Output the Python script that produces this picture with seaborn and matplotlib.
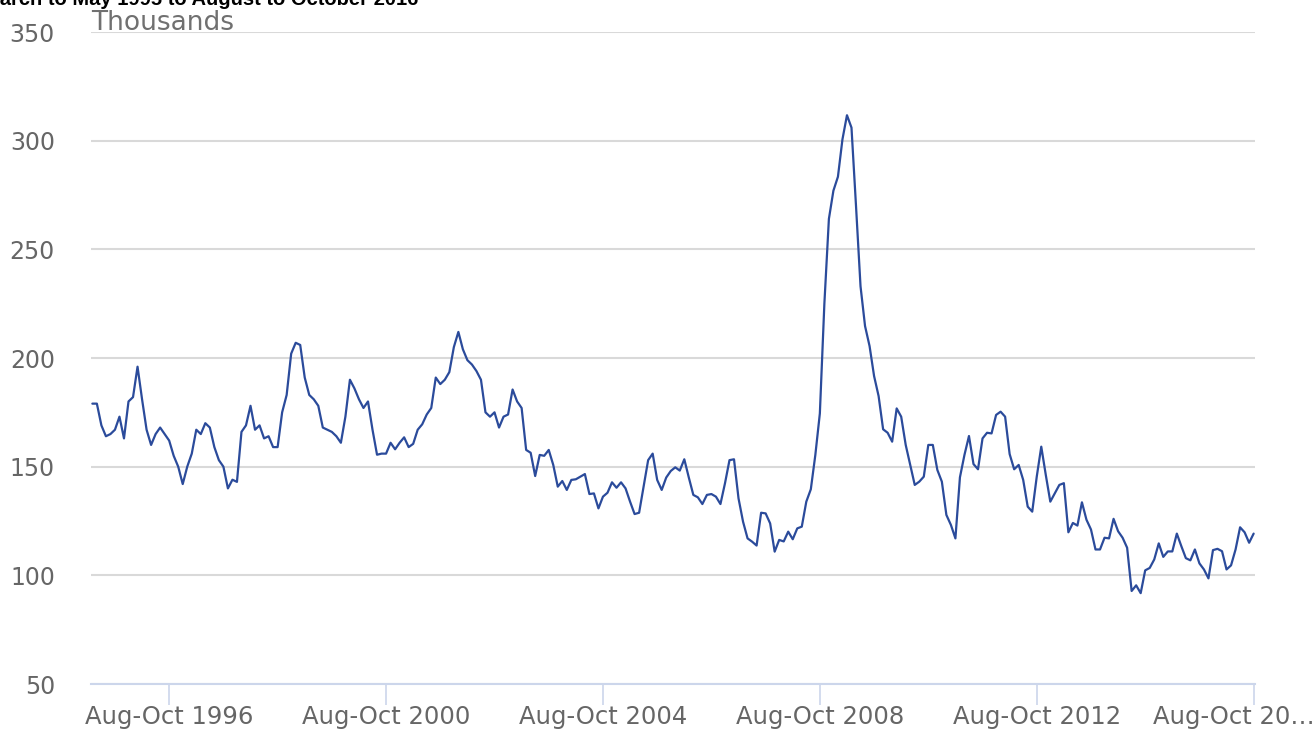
import matplotlib
matplotlib.use("Agg")
import matplotlib.pyplot as plt
import matplotlib.transforms as mtransforms
import seaborn as sns
import pandas as pd
import numpy as np

# Rolling three-month periods: Mar-May 1995 ... Aug-Oct 2016 (258 periods)
values = [
    179, 179, 169, 164, 165, 167, 173, 163, 180, 182, 196, 181, 167, 160, 165,
    168, 165, 162, 155, 150, 142, 150, 156, 167, 165, 170, 168, 159, 153, 150,
    140, 144, 143, 166, 169, 178, 167, 169, 163, 164, 159, 159, 175,
    183, 202, 207, 206, 191, 183, 181, 178, 168, 167, 166, 164, 161, 173, 190,
    186, 181, 177, 180, 167, 155.5, 156, 156, 161, 158, 161, 163.5, 159, 160.5,
    167, 169.5, 174, 177, 191, 188, 190, 193.5, 205, 212, 204, 199, 197, 194,
    190, 175, 173, 175, 168, 173, 174, 185.5, 180, 177, 157.7, 156.4, 145.7,
    155.4, 155, 157.7, 150.8, 140.8, 143.4, 139.3, 143.9, 144.2, 145.4, 146.6,
    137.4, 137.7, 130.8, 136.2, 138, 142.8, 140.3, 142.8, 140, 133.9, 128.2,
    128.8, 140.8, 153, 156, 143.9, 139.3, 145, 148, 149.7,
    148.2, 153.4, 145, 137, 135.9, 132.8, 137, 137.4, 136.2, 132.8, 142.3, 153,
    153.4, 135.4, 124.7, 117, 115.5, 113.7, 128.8, 128.5, 123.9, 110.9, 116.3,
    115.6, 120.1, 116.6, 121.6, 122.4, 133.9, 139.6, 155.4, 174.5,
    225, 264, 277, 283.4, 300.6, 311.7, 306, 270, 233, 214.7, 205.5, 191.7,
    182.5, 167.2, 165.6,
    161.5, 176.8, 173, 160, 150.8, 141.6, 143.1, 145.4, 160, 160, 148.5, 143.1,
    127.8, 123.2, 117, 145.1, 155.4, 164.1, 151.2, 148.8, 163, 165.6, 165.3,
    173.8, 175.3, 173, 155.8, 148.8, 150.8, 143.9, 131.6, 129.3, 145.4, 159.2,
    146.2, 133.9, 137.7, 141.6,
    142.4, 119.8, 124.1, 122.9, 133.6, 125.6, 121.1, 111.9, 111.9, 117.3, 117,
    126, 120.3, 117.3, 112.7, 92.8, 95.4, 91.8, 102.3, 103.4, 107.3, 114.7,
    108.5, 111, 111, 119.2, 113.4, 107.9, 106.9, 111.9, 105.5, 102.7, 98.6,
    111.6, 112.2, 111.1, 102.7, 104.6, 111.9, 122.1, 119.8, 115, 119.2,
]

tick_positions = [17, 65, 113, 161, 209, 257]
tick_labels = ["Aug-Oct 1996", "Aug-Oct 2000", "Aug-Oct 2004",
               "Aug-Oct 2008", "Aug-Oct 2012", "Aug-Oct 20\u2026"]
y_ticks = [50, 100, 150, 200, 250, 300, 350]

title_text = "March to May 1995 to August to October 2016"
unit_text = "Thousands"

df = pd.DataFrame({"period": np.arange(len(values)), "value": values})

sns.set_style("white")
plt.rcParams["font.family"] = ["DejaVu Sans"]

fig = plt.figure(figsize=(13.14, 7.29), dpi=100)
ax = fig.add_axes([91 / 1314, 45 / 729, 1164 / 1314, 652 / 729])

sns.lineplot(data=df, x="period", y="value", ax=ax, color="#2b4b9b",
             linewidth=1.6, zorder=3)

ax.set_xlim(-0.3, 257.3)
ax.set_ylim(50, 350)
ax.set_yticks(y_ticks)
ax.set_yticklabels([str(v) for v in y_ticks])
ax.set_xticks(tick_positions)
ax.set_xticklabels(tick_labels)
ax.set_xlabel("")
ax.set_ylabel("")

ax.grid(axis="y", color="#d9d9d9", linewidth=1.5, zorder=0)
ax.grid(axis="x", visible=False)
ax.set_axisbelow(True)

for s in ["top", "right", "left"]:
    ax.spines[s].set_visible(False)
ax.spines["bottom"].set_color("#ccd6eb")
ax.spines["bottom"].set_linewidth(1.5)
ax.spines["bottom"].set_zorder(2)

ax.tick_params(axis="x", bottom=True, length=15, width=1.2, color="#ccd6eb",
               pad=0, labelsize=17.5, labelcolor="#666666", direction="out")
ax.tick_params(axis="y", left=False, length=0, pad=26, labelsize=17,
               labelcolor="#666666")

# last label is truncated and shifted left in the reference
last = ax.get_xticklabels()[-1]
last.set_transform(last.get_transform() +
                   mtransforms.ScaledTranslation(-20 / 100, 0, fig.dpi_scale_trans))

fig.text(91 / 1314, 1 - 30 / 729, unit_text, fontsize=19, color="#707070",
         ha="left", va="baseline")
fig.text(418 / 1314, 1 - 5 / 729, title_text, fontsize=14.5, fontweight="bold",
         family=["Liberation Sans", "DejaVu Sans"], color="black",
         ha="right", va="baseline")

fig.savefig("out.png", dpi=100)
